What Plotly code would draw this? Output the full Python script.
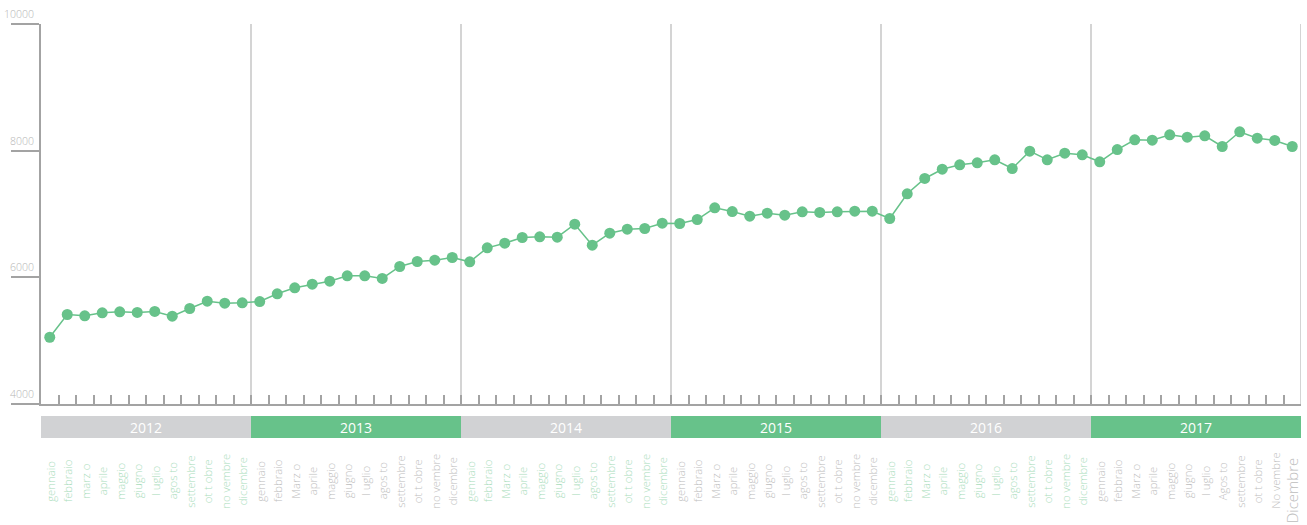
import plotly.graph_objects as go

years = ["2012", "2013", "2014", "2015", "2016", "2017"]
months_2012 = ["gennaio", "febbraio", "marz o", "aprile", "maggio", "giugno",
               "l uglio", "agos to", "settembre", "ot t obre", "no vembre", "dicembre"]
months_mid = ["gennaio", "febbraio", "Marz o", "aprile", "maggio", "giugno",
              "l uglio", "agos to", "settembre", "ot t obre", "no vembre", "dicembre"]
months_2017 = ["gennaio", "febbraio", "Marz o", "aprile", "maggio", "giugno",
               "l uglio", "Agos to", "settembre", "ot t obre", "No vembre", "Dicembre"]
month_labels = [months_2012, months_mid, months_mid, months_mid, months_mid, months_2017]

values_2012 = [5054, 5413, 5393, 5440, 5456, 5445, 5461, 5387, 5508, 5623, 5592, 5598]
values_2013 = [5618, 5740, 5835, 5892, 5939, 6024, 6024, 5982, 6171, 6250, 6271, 6313]
values_2014 = [6245, 6466, 6539, 6629, 6640, 6634, 6839, 6507, 6697, 6760, 6771, 6855]
values_2015 = [6850, 6913, 7098, 7039, 6966, 7013, 6981, 7035, 7024, 7035, 7044, 7044]
values_2016 = [6929, 7319, 7561, 7707, 7777, 7808, 7856, 7718, 7992, 7856, 7960, 7934]
values_2017 = [7824, 8018, 8171, 8166, 8250, 8213, 8234, 8066, 8298, 8197, 8161, 8066]
all_values = values_2012 + values_2013 + values_2014 + values_2015 + values_2016 + values_2017

y_ticks = [4000, 6000, 8000, 10000]

GREEN = "#67c28a"
GREY_BAND = "#d1d2d4"
LABEL_GREEN = "#a9dcbb"
LABEL_GREY = "#bdbdbd"
AXIS = "#a3a3a3"
FONT = "Open Sans"

n = len(all_values)
x_idx = list(range(n))

fig = go.Figure()
fig.add_trace(go.Scatter(
    x=x_idx, y=all_values, mode="lines+markers",
    line=dict(color=GREEN, width=1.5),
    marker=dict(color=GREEN, size=11),
    hoverinfo="skip", showlegend=False,
))

shapes = []
annotations = []

# year separators and right border
for k in range(1, len(years) + 1):
    xb = 12 * k - 0.5
    shapes.append(dict(type="line", xref="x", yref="paper", x0=xb, x1=xb, y0=0, y1=1,
                       line=dict(color="#d4d4d4", width=2), layer="below"))

# year bands
band_top = -12 / 380
band_bot = -34 / 380
for k, yr in enumerate(years):
    col = GREY_BAND if k % 2 == 0 else GREEN
    shapes.append(dict(type="rect", xref="x", yref="paper",
                       x0=12 * k - 0.5, x1=12 * k + 11.5, y0=band_bot, y1=band_top,
                       fillcolor=col, line=dict(width=0)))
    annotations.append(dict(x=12 * k + 5.5, y=(band_top + band_bot) / 2, xref="x", yref="paper",
                            text=yr, showarrow=False, xanchor="center", yanchor="middle",
                            font=dict(family=FONT, size=14, color="white", weight=400)))
    # month labels
    lab_col = LABEL_GREEN if k % 2 == 0 else LABEL_GREY
    for m, name in enumerate(month_labels[k]):
        big = (k == len(years) - 1 and m == 11)
        annotations.append(dict(
            x=12 * k + m, y=(-86 if big else -77) / 380, xref="x", yref="paper",
            text=name, showarrow=False, textangle=-90,
            xanchor="center", yanchor="middle",
            font=dict(family=FONT, size=15 if big else 11.3, color=lab_col, weight=300),
        ))

# y labels above tick lines
for v in y_ticks:
    annotations.append(dict(x=-0.004, y=v, xref="paper", yref="y", text=str(v),
                            showarrow=False, xanchor="right", yanchor="bottom", yshift=1,
                            font=dict(family=FONT, size=10.5, color="#b5b5b5", weight=300)))

fig.update_layout(
    width=1307, height=525,
    margin=dict(l=41, r=6, t=24, b=121),
    paper_bgcolor="white", plot_bgcolor="white",
    shapes=shapes, annotations=annotations,
    xaxis=dict(range=[-0.5, n - 0.5], showgrid=False, zeroline=False,
               showline=True, linecolor=AXIS, linewidth=2,
               tickmode="array", tickvals=[i + 0.5 for i in range(n)],
               ticks="inside", ticklen=9, tickwidth=1.5, tickcolor=AXIS,
               showticklabels=False),
    yaxis=dict(range=[4000, 10000], showgrid=False, zeroline=False,
               showline=True, linecolor=AXIS, linewidth=2,
               tickmode="array", tickvals=y_ticks,
               ticks="outside", ticklen=28, tickwidth=2, tickcolor=AXIS,
               showticklabels=False),
)

fig.write_html("out.html", config={"displayModeBar": False},
               post_script="document.body.style.margin='0';document.body.style.padding='0';")
